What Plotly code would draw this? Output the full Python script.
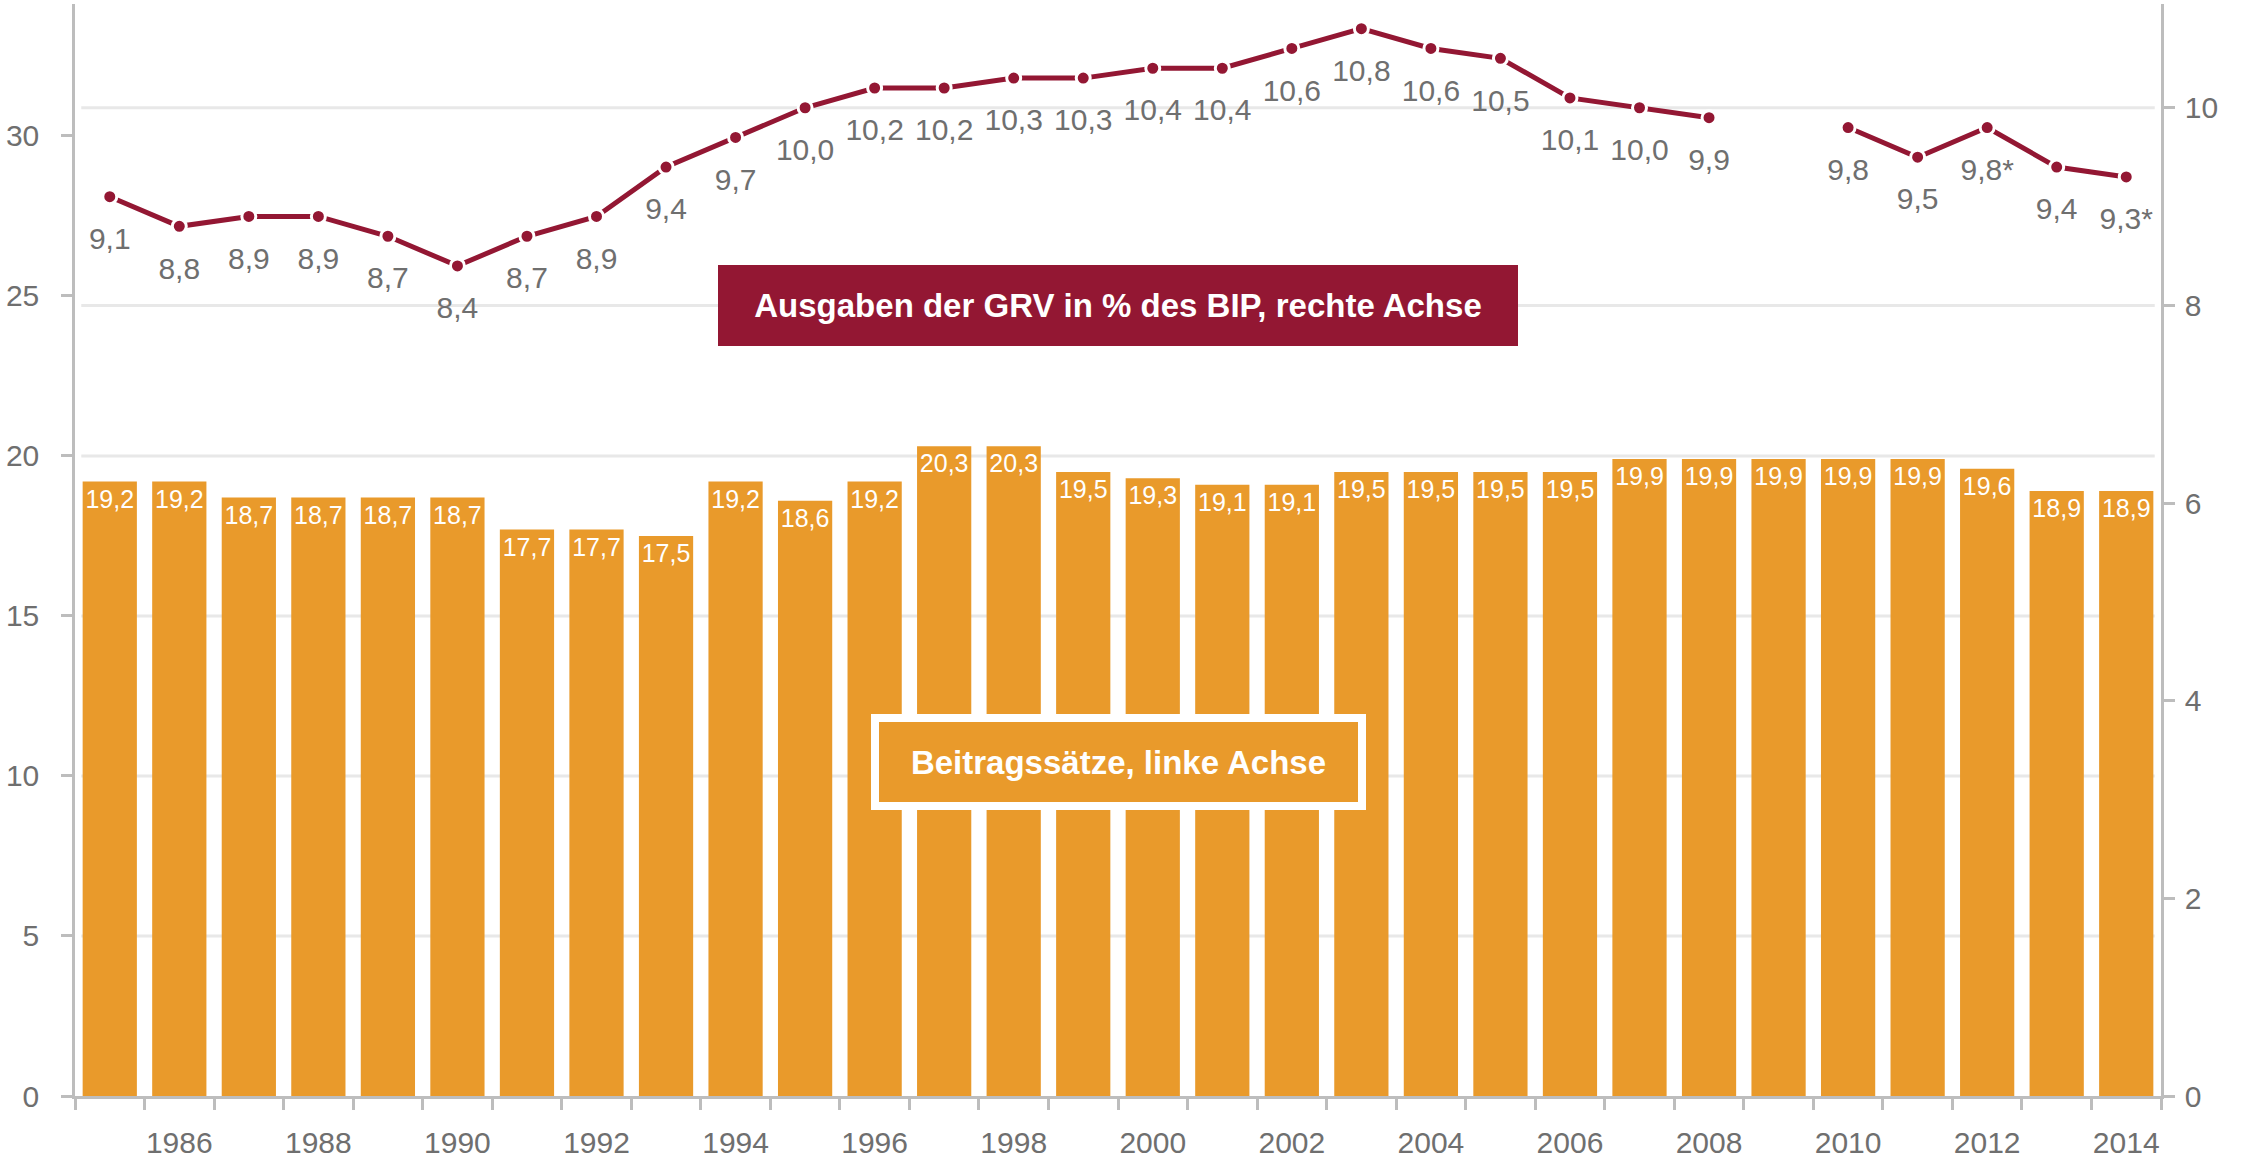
import plotly.graph_objects as go

years = list(range(1985, 2015))

beitragssaetze = [19.2, 19.2, 18.7, 18.7, 18.7, 18.7, 17.7, 17.7, 17.5, 19.2,
                  18.6, 19.2, 20.3, 20.3, 19.5, 19.3, 19.1, 19.1, 19.5, 19.5,
                  19.5, 19.5, 19.9, 19.9, 19.9, 19.9, 19.9, 19.6, 18.9, 18.9]

ausgaben_bip = [9.1, 8.8, 8.9, 8.9, 8.7, 8.4, 8.7, 8.9, 9.4, 9.7,
                10.0, 10.2, 10.2, 10.3, 10.3, 10.4, 10.4, 10.6, 10.8, 10.6,
                10.5, 10.1, 10.0, 9.9, None, 9.8, 9.5, 9.8, 9.4, 9.3]

ausgaben_note = [''] * 30
ausgaben_note[27] = '*'
ausgaben_note[29] = '*'

year_ticks = list(range(1986, 2015, 2))
left_ticks = [0, 5, 10, 15, 20, 25, 30]
right_ticks = [0, 2, 4, 6, 8, 10]
left_grid = [5, 10, 15, 20]
right_grid = [8, 10]

label_bar = "Beitragssätze, linke Achse"
label_line = "Ausgaben der GRV in % des BIP, rechte Achse"

BAR = "#E99A2B"
LINE = "#931733"
GREY = "#6f6f6f"
AX = "#bdbdbd"
FONT = "Liberation Sans, Arial, sans-serif"

line_text = ["" if v is None else f"{v:.1f}".replace(".", ",") + n
             for v, n in zip(ausgaben_bip, ausgaben_note)]

fig = go.Figure()

fig.add_trace(go.Bar(
    x=years, y=beitragssaetze, marker_color=BAR, marker_line_width=0,
    texttemplate="%{y:.1f}", textposition="inside", insidetextanchor="end",
    constraintext="none", textangle=0,
    textfont=dict(color="white", size=25, family=FONT),
    hoverinfo="skip", showlegend=False,
))

fig.add_trace(go.Scatter(
    x=years, y=ausgaben_bip, yaxis="y2", mode="lines+markers",
    line=dict(color=LINE, width=5), connectgaps=False,
    marker=dict(color=LINE, size=14, line=dict(color="white", width=3)),
    showlegend=False,
))

fig.add_trace(go.Scatter(
    x=years, y=ausgaben_bip, yaxis="y2", mode="markers+text",
    text=line_text, textposition="bottom center",
    textfont=dict(color=GREY, size=30, family=FONT),
    marker=dict(size=46, color="rgba(0,0,0,0)"),
    showlegend=False, hoverinfo="skip",
))

shapes = []
for g in left_grid:
    shapes.append(dict(type="line", xref="paper", x0=0.003, x1=0.997, yref="y",
                       y0=g, y1=g, line=dict(color="#e8e8e8", width=3), layer="below"))
for g in right_grid:
    shapes.append(dict(type="line", xref="paper", x0=0.003, x1=0.997, yref="y2",
                       y0=g, y1=g, line=dict(color="#e8e8e8", width=3), layer="below"))

fig.update_layout(
    width=2245, height=1163,
    margin=dict(l=75, r=84, t=4, b=67, autoexpand=False),
    plot_bgcolor="white", paper_bgcolor="white",
    separators=",.",
    bargap=0.22,
    font=dict(family=FONT, color=GREY, size=30),
    shapes=shapes,
    xaxis=dict(
        range=[1984.5, 2014.5], tickmode="array", tickvals=year_ticks,
        ticks="", showgrid=False, zeroline=False, automargin=False,
        showline=True, linecolor=AX, linewidth=2.5,
        tickfont=dict(size=30, color=GREY), ticklabelstandoff=18,
        minor=dict(ticks="outside", tick0=0.5, dtick=1, ticklen=11,
                   tickwidth=2.5, tickcolor=AX, showgrid=False),
    ),
    yaxis=dict(
        range=[0, 34.12], tickmode="array", tickvals=left_ticks,
        ticks="outside", ticklen=11, tickwidth=2.5, tickcolor=AX,
        showgrid=False, zeroline=False, automargin=False,
        showline=True, linecolor=AX, linewidth=2.5,
        tickfont=dict(size=30, color=GREY), ticklabelstandoff=16,
    ),
    yaxis2=dict(
        range=[0, 11.05], overlaying="y", side="right",
        tickmode="array", tickvals=right_ticks,
        ticks="outside", ticklen=11, tickwidth=2.5, tickcolor=AX,
        showgrid=False, zeroline=False, automargin=False,
        showline=True, linecolor=AX, linewidth=2.5,
        tickfont=dict(size=30, color=GREY), ticklabelstandoff=4,
    ),
    annotations=[
        dict(text="<b>" + label_line + "</b>", xref="paper", yref="paper",
             x=0.5, y=0.724, xanchor="center", yanchor="middle", showarrow=False,
             font=dict(family=FONT, size=33, color="white"),
             bgcolor=LINE, borderpad=0, borderwidth=0, width=800, height=81),
        dict(text="<b>" + label_bar + "</b>", xref="paper", yref="paper",
             x=0.5, y=0.306, xanchor="center", yanchor="middle", showarrow=False,
             font=dict(family=FONT, size=33, color="white"),
             bgcolor=BAR, bordercolor="white", borderwidth=8, borderpad=0,
             width=479, height=80),
    ],
)

fig.write_html("out.html", config={"displayModeBar": False},
               post_script="document.body.style.margin='0px';document.body.style.overflow='hidden';")
